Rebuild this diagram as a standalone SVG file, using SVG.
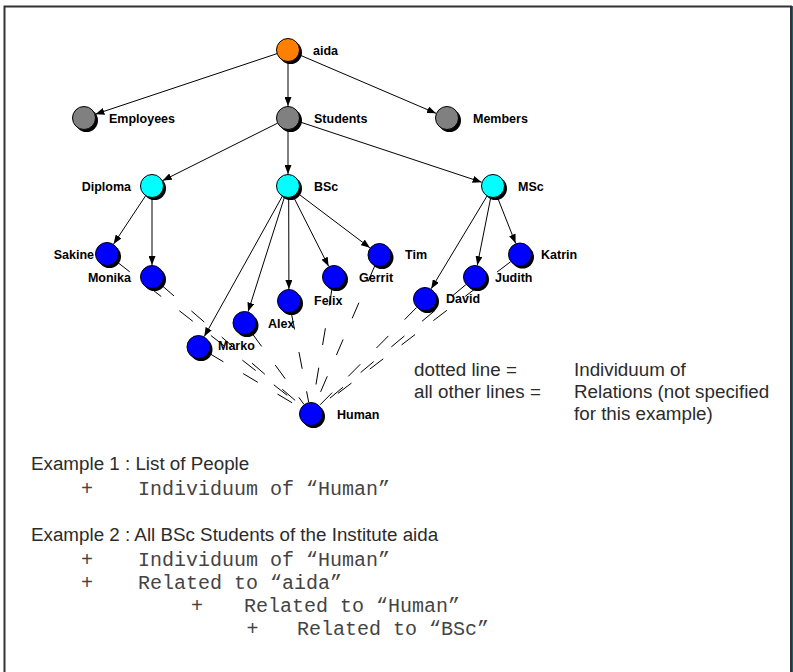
<svg xmlns="http://www.w3.org/2000/svg" width="793" height="672" viewBox="0 0 793 672">
<style>
.sh{fill:#000}
.c{stroke:#000;stroke-width:1}
.org{fill:#ff8000}.gry{fill:#808080}.cyn{fill:#00ffff}.blu{fill:#0000ff}
.lbl{font-family:"Liberation Sans",Arial,sans-serif;font-weight:bold;font-size:12.5px;fill:#000}
.e{stroke:#000;stroke-width:1;fill:none;marker-end:url(#ah)}
.d{stroke:#000;stroke-width:1;fill:none;stroke-dasharray:17 23}
.t{font-family:"Liberation Sans",Arial,sans-serif;font-size:18.8px;fill:#2b2b2b}
.m{font-family:"Liberation Mono","Courier New",monospace;font-size:20px;fill:#444}
</style>
<defs>
<marker id="ah" markerUnits="userSpaceOnUse" markerWidth="9" markerHeight="7" refX="9" refY="3.5" orient="auto">
<path d="M0,0 L9,3.5 L0,7 z" fill="#000"/>
</marker>
</defs>
<rect x="0" y="0" width="793" height="672" fill="#fff"/>
<rect x="4.5" y="6.5" width="786.5" height="700" fill="none" stroke="#333" stroke-width="2"/>
<line x1="792.5" y1="6" x2="792.5" y2="672" stroke="#2d5a6b" stroke-width="1"/>

<g id="connectors">
<line class="e" x1="277.1" y1="53.6" x2="95.4" y2="114.2"/>
<line class="e" x1="288" y1="62" x2="288" y2="106"/>
<line class="e" x1="298.6" y1="54.5" x2="436" y2="113.3"/>
<line class="e" x1="277.7" y1="123.1" x2="162.7" y2="180.6"/>
<line class="e" x1="288" y1="130" x2="288" y2="174"/>
<line class="e" x1="298.9" y1="121.6" x2="481.6" y2="182.2"/>
<line class="e" x1="145.7" y1="195.6" x2="113.6" y2="244"/>
<line class="e" x1="152" y1="198" x2="152" y2="265"/>
<line class="e" x1="282.4" y1="196.1" x2="204.3" y2="336.5"/>
<line class="e" x1="284.5" y1="197" x2="248.1" y2="311.6"/>
<line class="e" x1="288.7" y1="198" x2="288.9" y2="289"/>
<line class="e" x1="293.2" y1="196.3" x2="328.6" y2="266.3"/>
<line class="e" x1="297.2" y1="192.9" x2="369.9" y2="247.8"/>
<line class="e" x1="487.1" y1="195.9" x2="431.2" y2="288.7"/>
<line class="e" x1="490.8" y1="197.3" x2="477.3" y2="265.2"/>
<line class="e" x1="497.2" y1="196.7" x2="515.6" y2="243.3"/>
<line class="d" x1="116.4" y1="261.4" x2="301.6" y2="406.6"/>
<line class="d" x1="161.1" y1="284.8" x2="301.9" y2="406.2"/>
<line class="d" x1="208.8" y1="353.1" x2="300.7" y2="407.9"/>
<line class="d" x1="251.6" y1="332.7" x2="303.9" y2="404.3"/>
<line class="d" x1="291.3" y1="312.8" x2="308.7" y2="402.2"/>
<line class="d" x1="332" y1="288.8" x2="313" y2="402.2"/>
<line class="d" x1="374.7" y1="266" x2="315.8" y2="403"/>
<line class="d" x1="416.6" y1="307.5" x2="319.4" y2="405.5"/>
<line class="d" x1="465.8" y1="284.7" x2="320.2" y2="406.3"/>
<line class="d" x1="510.5" y1="261.8" x2="320.5" y2="406.7"/>
</g>

<g id="aida"><circle class="sh" cx="290.5" cy="52.5" r="11.5"/><circle class="c org" cx="288" cy="50" r="11.5"/><text class="lbl" x="313" y="55">aida</text></g>
<g id="employees"><circle class="sh" cx="86.5" cy="120.5" r="11.5"/><circle class="c gry" cx="84" cy="118" r="11.5"/><text class="lbl" x="109" y="123">Employees</text></g>
<g id="students"><circle class="sh" cx="290.5" cy="120.5" r="11.5"/><circle class="c gry" cx="288" cy="118" r="11.5"/><text class="lbl" x="314" y="123">Students</text></g>
<g id="members"><circle class="sh" cx="449.5" cy="120.5" r="11.5"/><circle class="c gry" cx="447" cy="118" r="11.5"/><text class="lbl" x="473" y="123">Members</text></g>
<g id="diploma"><circle class="sh" cx="154.5" cy="188.5" r="11.5"/><circle class="c cyn" cx="152" cy="186" r="11.5"/><text class="lbl" x="131" y="191" text-anchor="end">Diploma</text></g>
<g id="bsc"><circle class="sh" cx="290.5" cy="188.5" r="11.5"/><circle class="c cyn" cx="288" cy="186" r="11.5"/><text class="lbl" x="314" y="191">BSc</text></g>
<g id="msc"><circle class="sh" cx="495.5" cy="188.5" r="11.5"/><circle class="c cyn" cx="493" cy="186" r="11.5"/><text class="lbl" x="518" y="191">MSc</text></g>
<g id="sakine"><circle class="sh" cx="109.5" cy="256.5" r="11.5"/><circle class="c blu" cx="107" cy="254" r="11.5"/><text class="lbl" x="94" y="259" text-anchor="end">Sakine</text></g>
<g id="monika"><circle class="sh" cx="154.5" cy="279.5" r="11.5"/><circle class="c blu" cx="152" cy="277" r="11.5"/><text class="lbl" x="131" y="282" text-anchor="end">Monika</text></g>
<g id="marko"><circle class="sh" cx="201" cy="349.5" r="11.5"/><circle class="c blu" cx="198.5" cy="347" r="11.5"/><text class="lbl" x="218" y="350">Marko</text></g>
<g id="alex"><circle class="sh" cx="247" cy="325.5" r="11.5"/><circle class="c blu" cx="244.5" cy="323" r="11.5"/><text class="lbl" x="268" y="328">Alex</text></g>
<g id="felix"><circle class="sh" cx="291.5" cy="303.5" r="11.5"/><circle class="c blu" cx="289" cy="301" r="11.5"/><text class="lbl" x="314" y="305">Felix</text></g>
<g id="gerrit"><circle class="sh" cx="336.5" cy="279.5" r="11.5"/><circle class="c blu" cx="334" cy="277" r="11.5"/><text class="lbl" x="359" y="282">Gerrit</text></g>
<g id="tim"><circle class="sh" cx="382" cy="257.5" r="11.5"/><circle class="c blu" cx="379.5" cy="255" r="11.5"/><text class="lbl" x="405" y="259">Tim</text></g>
<g id="david"><circle class="sh" cx="427.5" cy="301.5" r="11.5"/><circle class="c blu" cx="425" cy="299" r="11.5"/><text class="lbl" x="446" y="303">David</text></g>
<g id="judith"><circle class="sh" cx="477.5" cy="279.5" r="11.5"/><circle class="c blu" cx="475" cy="277" r="11.5"/><text class="lbl" x="495" y="282">Judith</text></g>
<g id="katrin"><circle class="sh" cx="522.5" cy="257" r="11.5"/><circle class="c blu" cx="520" cy="254.5" r="11.5"/><text class="lbl" x="541" y="259">Katrin</text></g>
<g id="human"><circle class="sh" cx="313.5" cy="416.5" r="11.5"/><circle class="c blu" cx="311" cy="414" r="11.5"/><text class="lbl" x="337" y="419">Human</text></g>

<g id="legend">
<text class="t" x="414" y="376">dotted line =</text>
<text class="t" x="414" y="398">all other lines =</text>
<text class="t" x="574" y="376">Individuum of</text>
<text class="t" x="574" y="398">Relations (not specified</text>
<text class="t" x="574" y="420">for this example)</text>
</g>

<g id="examples">
<text class="t" x="31" y="470">Example 1 : List of People</text>
<text class="m" x="81" y="495">+</text>
<text class="m" x="138" y="495">Individuum of “Human”</text>
<text class="t" x="31" y="541">Example 2 : All BSc Students of the Institute aida</text>
<text class="m" x="81" y="566">+</text>
<text class="m" x="138" y="566">Individuum of “Human”</text>
<text class="m" x="81" y="589">+</text>
<text class="m" x="138" y="589">Related to “aida”</text>
<text class="m" x="191" y="612">+</text>
<text class="m" x="244" y="612">Related to “Human”</text>
<text class="m" x="246.5" y="635">+</text>
<text class="m" x="297" y="635">Related to “BSc”</text>
</g>
</svg>
